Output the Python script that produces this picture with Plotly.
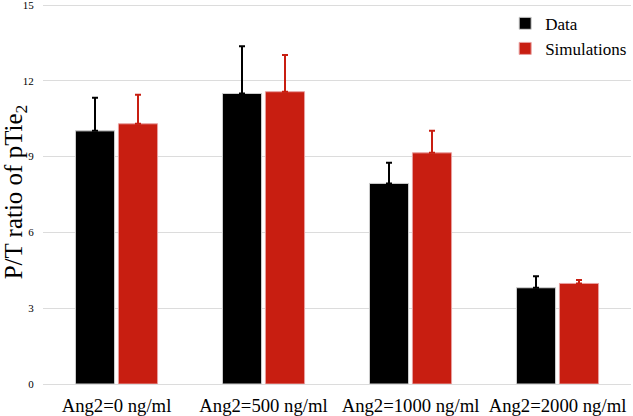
import plotly.graph_objects as go

categories = ["Ang2=0 ng/ml", "Ang2=500 ng/ml", "Ang2=1000 ng/ml", "Ang2=2000 ng/ml"]
data_values = [10.02, 11.50, 7.94, 3.81]
data_errors = [1.31, 1.87, 0.82, 0.46]
sim_values = [10.30, 11.57, 9.15, 3.98]
sim_errors = [1.15, 1.45, 0.87, 0.14]
y_tick_step = 3

FONT = "Liberation Serif"

fig = go.Figure()
fig.add_trace(go.Bar(
    x=categories, y=data_values, name="Data", legendgroup="a",
    marker=dict(color="#000000", line=dict(color="#d0d0d0", width=1)),
    error_y=dict(type="data", symmetric=False, array=data_errors,
                 arrayminus=[0]*len(data_errors), color="#000000",
                 thickness=2, width=3),
))
fig.add_trace(go.Bar(
    x=categories, y=sim_values, name="Simulations", legendgroup="b",
    marker=dict(color="#c81e11", line=dict(color="#e8a0a0", width=1)),
    error_y=dict(type="data", symmetric=False, array=sim_errors,
                 arrayminus=[0]*len(sim_errors), color="#c81e11",
                 thickness=2, width=3),
))

fig.update_layout(
    width=633, height=416,
    margin=dict(l=43, r=2, t=0, b=32),
    paper_bgcolor="white", plot_bgcolor="white",
    barmode="group", bargap=0.415, bargroupgap=0.09,
    font=dict(family=FONT, color="#000000"),
    showlegend=True,
    legend=dict(x=0.786, y=0.985, xanchor="left", yanchor="top",
                font=dict(size=17, family=FONT, color="#000000"), tracegroupgap=8,
                itemwidth=30, borderwidth=0, bgcolor="rgba(0,0,0,0)",
                traceorder="normal"),
    xaxis=dict(showline=False, ticks="", tickangle=0, ticklabelstandoff=8,
               tickfont=dict(size=18.7, family=FONT), showgrid=False,
               automargin=False),
    yaxis=dict(range=[0, 15.2], tickmode="linear", tick0=0, dtick=y_tick_step,
               showgrid=True, ticklabeloverflow="allow", automargin=False,
               ticks="outside", ticklen=6, tickcolor="rgba(0,0,0,0)",
               gridcolor="#dcdcdc", gridwidth=1, zeroline=True,
               zerolinecolor="#dcdcdc", zerolinewidth=1, showline=False,
               tickfont=dict(size=11, family=FONT),
               title=dict(text="P/T ratio of pTie<sub>2</sub>",
                          font=dict(size=25, family=FONT), standoff=0)),
)

fig.write_html("out.html", config={"displayModeBar": False},
               post_script="document.body.style.margin='0';document.body.style.overflow='hidden';")
